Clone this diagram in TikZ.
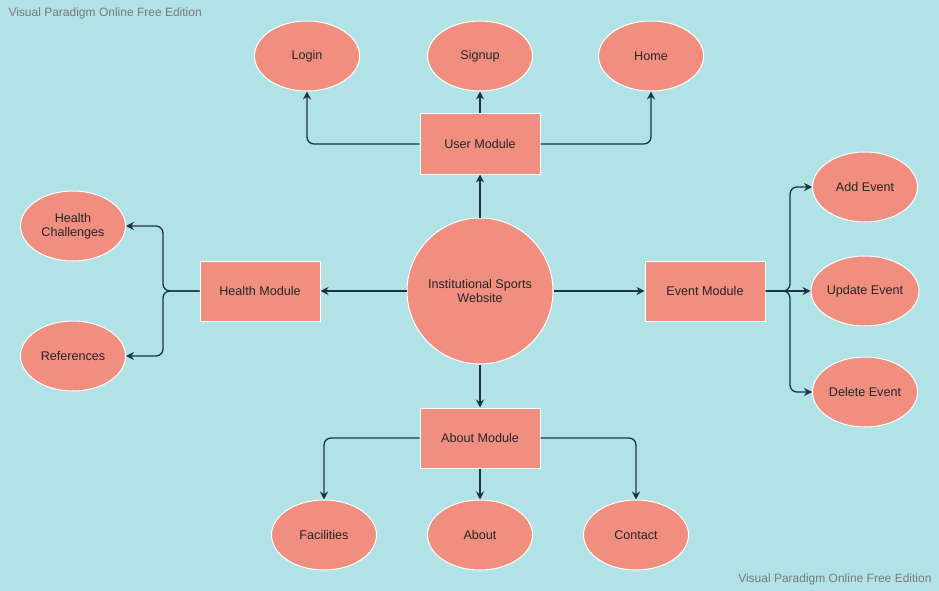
\documentclass[tikz,border=0pt]{standalone}
\usepackage{fontspec}
\setmainfont{Liberation Sans}
\usetikzlibrary{arrows.meta,shapes.geometric}
\definecolor{bgcol}{HTML}{B0E2E6}
\definecolor{boxcol}{HTML}{F08E80}
\definecolor{linecol}{HTML}{1C3344}
\definecolor{textcol}{HTML}{262626}
\definecolor{markcol}{HTML}{7A7A7A}

\begin{document}
\begin{tikzpicture}[x=1pt,y=-1pt,
	lbl/.style={font=\fontsize{12.6}{14.5}\selectfont,text=textcol,align=center},
	module/.style={lbl,draw=white,fill=boxcol,line width=1pt,minimum width=120pt,minimum height=60pt},
	leaf/.style={lbl,ellipse,draw=white,fill=boxcol,line width=1pt,minimum width=105pt,minimum height=70pt,inner sep=0pt},
	link/.style={draw=linecol,line width=1.3pt,rounded corners=7pt,-{Stealth[length=8pt,width=8pt]}}]
\fill[bgcol] (0,0) rectangle (939,591);
\node[anchor=north west,font=\fontsize{12}{14}\selectfont,text=markcol] (marktop) at (5,4) {Visual Paradigm Online Free Edition};
\node[anchor=south east,font=\fontsize{12}{14}\selectfont,text=markcol] (markbot) at (935,589) {Visual Paradigm Online Free Edition};
% centre and modules
\node[lbl,circle,draw=white,fill=boxcol,line width=1pt,minimum size=146pt,inner sep=0pt] (hub) at (480,291) {Institutional Sports\\Website};
\foreach \nm/\txt/\px/\py in {
	usermod/User Module/480/144,
	healthmod/Health Module/260/291,
	eventmod/Event Module/705/291,
	aboutmod/About Module/480/438%
	}{
	\node[module] (\nm) at (\px,\py) {\txt};
	}
% leaves
\foreach \nm/\txt/\px/\py in {
	login/Login/307/56,
	signup/Signup/480/56,
	home/Home/651/56,
	hchall/Health\\Challenges/73/226,
	refs/References/73/356,
	addev/Add Event/865/187,
	updev/Update Event/865/291,
	delev/Delete Event/865/392,
	facil/Facilities/324/535,
	about/About/480/535,
	contact/Contact/636/535%
	}{
	\node[leaf] (\nm) at (\px,\py) {\txt};
	}
\coordinate (hfork) at (163,291);
\coordinate (efork) at (790,291);
% connectors
\draw[link] (hub) -- (usermod);
\draw[link] (hub) -- (healthmod);
\draw[link] (hub) -- (eventmod);
\draw[link] (hub) -- (aboutmod);
\draw[link] (usermod.west) -| (login.south);
\draw[link] (usermod) -- (signup);
\draw[link] (usermod.east) -| (home.south);
\draw[link] (healthmod.west) -- (hfork) |- (hchall.east);
\draw[link] (healthmod.west) -- (hfork) |- (refs.east);
\draw[link] (eventmod.east) -- (efork) |- (addev.west);
\draw[link] (eventmod.east) -- (updev.west);
\draw[link] (eventmod.east) -- (efork) |- (delev.west);
\draw[link] (aboutmod.west) -| (facil.north);
\draw[link] (aboutmod) -- (about);
\draw[link] (aboutmod.east) -| (contact.north);
\end{tikzpicture}
\end{document}
